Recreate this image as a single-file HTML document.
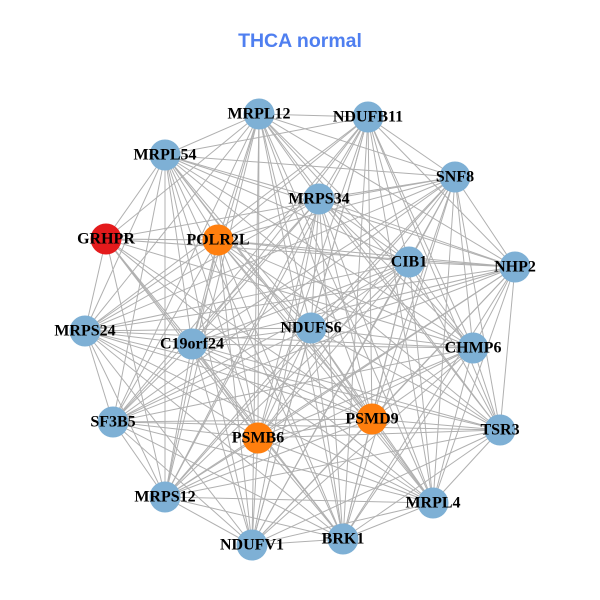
<!DOCTYPE html>
<html><head><meta charset="utf-8"><style>
html,body{margin:0;padding:0;background:#fff;width:600px;height:600px;overflow:hidden}
svg text{font-family:"Liberation Serif",serif;font-weight:bold;font-size:16px;text-anchor:middle;dominant-baseline:central;fill:#000}
</style></head><body>
<svg id="s" width="600" height="600" xmlns="http://www.w3.org/2000/svg">
<text x="300" y="41" style="font-family:'Liberation Sans',sans-serif;font-size:19.5px;fill:#4f7ff0">THCA normal</text>
<g id="e" stroke="#b0b0b0" stroke-width="1"></g>
<g id="n"></g>
<g id="l">
<text x="259" y="114">MRPL12</text>
<text x="368" y="117">NDUFB11</text>
<text x="165" y="155">MRPL54</text>
<text x="455" y="177">SNF8</text>
<text x="319" y="199">MRPS34</text>
<text x="106" y="239">GRHPR</text>
<text x="218" y="240">POLR2L</text>
<text x="409" y="262">CIB1</text>
<text x="515" y="267">NHP2</text>
<text x="85" y="331">MRPS24</text>
<text x="311" y="328">NDUFS6</text>
<text x="192" y="344">C19orf24</text>
<text x="473" y="348">CHMP6</text>
<text x="113" y="422">SF3B5</text>
<text x="372" y="419">PSMD9</text>
<text x="258" y="438">PSMB6</text>
<text x="500" y="430">TSR3</text>
<text x="165" y="497">MRPS12</text>
<text x="433" y="503">MRPL4</text>
<text x="252" y="545">NDUFV1</text>
<text x="343" y="539">BRK1</text>
</g>
</svg>
<script>
var N=[[259,114,0],[368,117,0],[165,155,0],[455,177,0],[319,199,0],[106,239,2],[218,240,1],[409,262,0],[515,267,0],[85,331,0],[311,328,0],[192,344,0],[473,348,0],[113,422,0],[372,419,1],[258,438,1],[500,430,0],[165,497,0],[433,503,0],[252,545,0],[343,539,0]];
var ns="http://www.w3.org/2000/svg",e=document.getElementById("e"),g=document.getElementById("n");
for(var i=0;i<N.length;i++)for(var j=i+1;j<N.length;j++){
 if((i==5||j==5)&&((i+j)%3==0))continue;
 var L=document.createElementNS(ns,"line");
 L.setAttribute("x1",N[i][0]);L.setAttribute("y1",N[i][1]);L.setAttribute("x2",N[j][0]);L.setAttribute("y2",N[j][1]);e.appendChild(L);}
var C=["#7eb0d5","#ff7f0e","#e41a1c"];
N.forEach(function(p){var c=document.createElementNS(ns,"circle");c.setAttribute("cx",p[0]);c.setAttribute("cy",p[1]);c.setAttribute("r",15.5);c.setAttribute("fill",C[p[2]]);g.appendChild(c);});
</script>
</body></html>
